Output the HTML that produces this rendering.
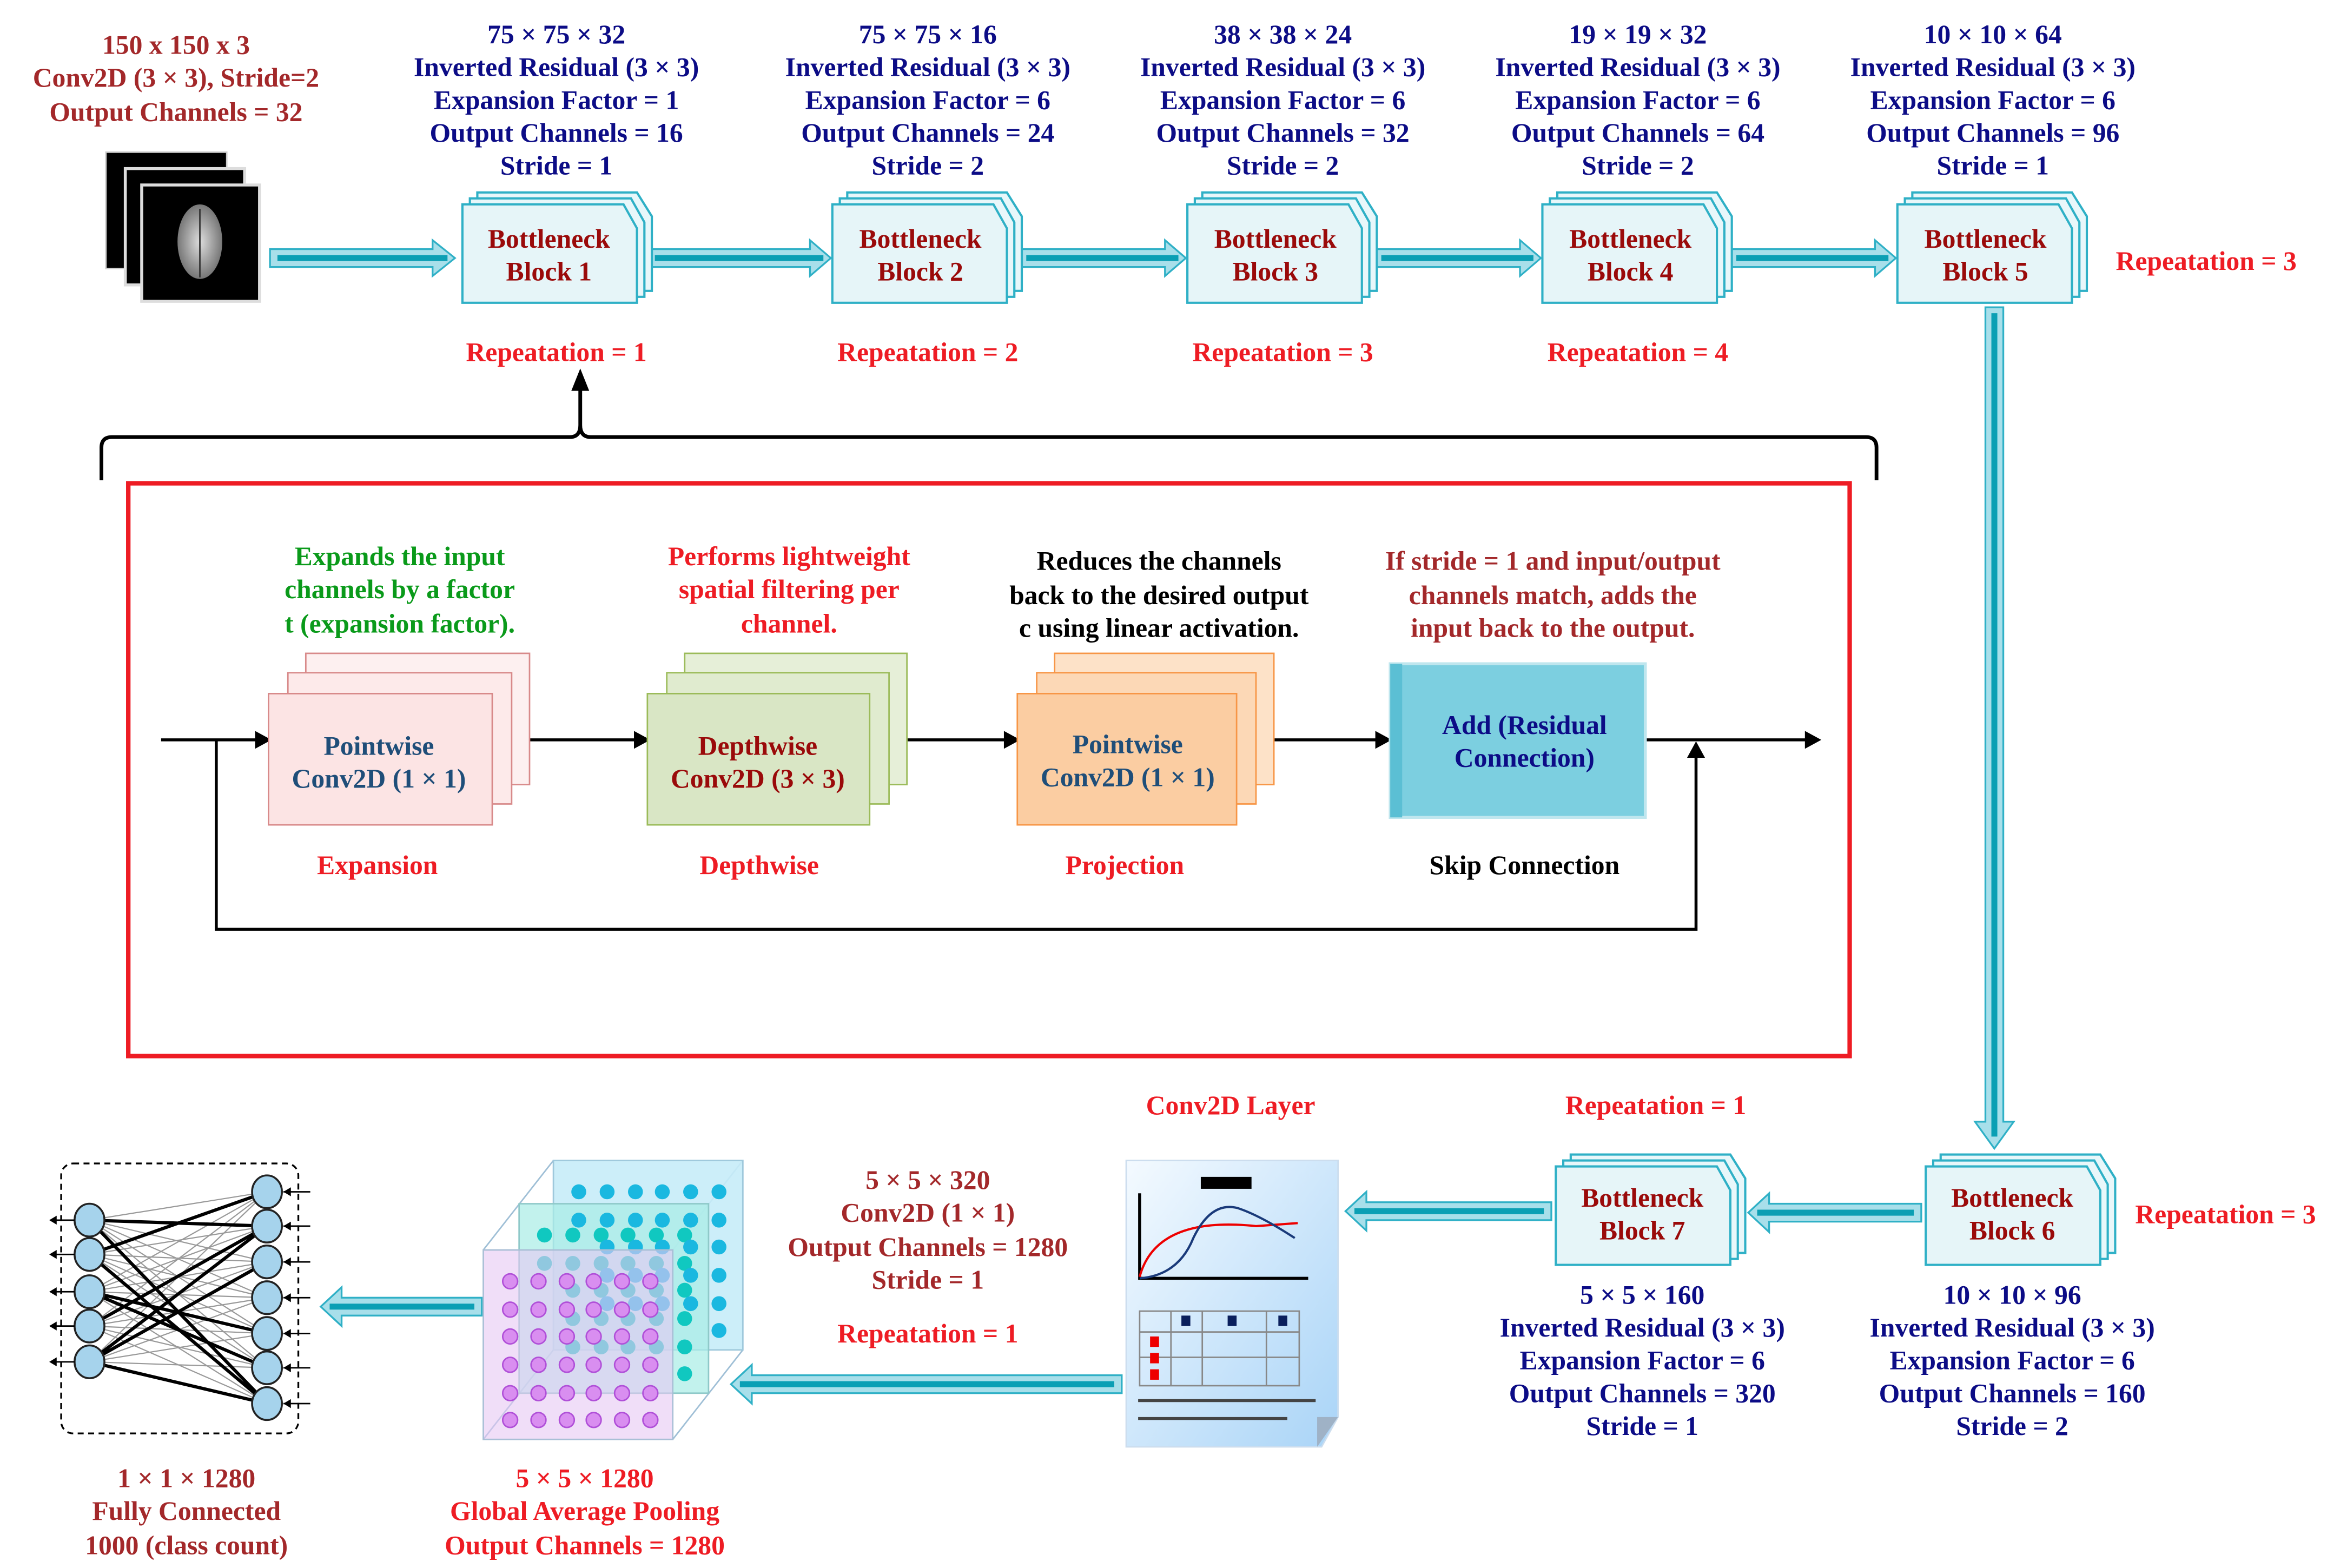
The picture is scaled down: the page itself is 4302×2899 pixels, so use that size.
<!DOCTYPE html>
<html><head><meta charset="utf-8"><style>
html,body{margin:0;padding:0;background:#fff}
svg{display:block}
text{font-family:"Liberation Serif",serif;font-weight:bold;font-size:18px;text-anchor:middle}
.nv{fill:#0c0c86}.br{fill:#a3282a}.rd{fill:#ee1c24}.dr{fill:#9a0a0a}.bl{fill:#1f4e79}
</style></head><body>
<svg width="4302" height="2899" viewBox="0 0 1560 1051.2" xmlns="http://www.w3.org/2000/svg">
<defs>
<g id="blk">
<polygon points="10,-8 117,-8 127,8 127,58 10,58" fill="#e8f7fa" stroke="#2fb0c6" stroke-width="1.5"/>
<polygon points="5,-4 113,-4 122,12 122,62 5,62" fill="#e8f7fa" stroke="#2fb0c6" stroke-width="1.5"/>
<polygon points="0,0 108,0 117,16 117,66 0,66" fill="#e6f5f8" stroke="#2fb0c6" stroke-width="1.5"/>
</g>
<g id="arR">
<polygon points="0,-6 -14,-6 -14,-13 0,0 -14,13 -14,6 0,6" fill="none"/>
</g>
<linearGradient id="doc" x1="0" y1="0" x2="1" y2="1"><stop offset="0" stop-color="#f4faff"/><stop offset="1" stop-color="#a9d4f7"/></linearGradient>
<radialGradient id="brain"><stop offset="0" stop-color="#ddd"/><stop offset="1" stop-color="#777"/></radialGradient>
</defs>

<!-- input text -->
<text class="br" x="118" y="36">150 x 150 x 3</text>
<text class="br" x="118" y="58">Conv2D (3 × 3), Stride=2</text>
<text class="br" x="118" y="81">Output Channels = 32</text>
<!-- images -->
<rect x="71" y="102" width="81" height="78" fill="#000" stroke="#ccc"/>
<rect x="84" y="113" width="80" height="78" fill="#000" stroke="#ddd" stroke-width="2"/>
<rect x="95" y="124" width="79" height="78" fill="#000" stroke="#ddd" stroke-width="2"/>
<ellipse cx="134" cy="162" rx="15" ry="25" fill="url(#brain)"/>
<line x1="134" y1="140" x2="134" y2="186" stroke="#333" stroke-width="1"/>

<!-- horizontal arrows top -->
<g fill="#a8dfea" stroke="#2fb0c6" stroke-width="1.2">
<polygon points="181,167 290,167 290,161 305,173 290,185 290,179 181,179"/>
<polygon points="434,167 543,167 543,161 557,173 543,185 543,179 434,179"/>
<polygon points="683,167 781,167 781,161 795,173 781,185 781,179 683,179"/>
<polygon points="921,167 1019,167 1019,161 1033,173 1019,185 1019,179 921,179"/>
<polygon points="1159,167 1257,167 1257,161 1271,173 1257,185 1257,179 1159,179"/>
</g>
<g stroke="#0b9fb4" stroke-width="4">
<line x1="186" y1="173" x2="300" y2="173"/><line x1="439" y1="173" x2="552" y2="173"/>
<line x1="688" y1="173" x2="790" y2="173"/><line x1="926" y1="173" x2="1028" y2="173"/>
<line x1="1164" y1="173" x2="1266" y2="173"/>
</g>

<!-- blocks top -->
<use href="#blk" transform="translate(310,137)"/>
<use href="#blk" transform="translate(558,137)"/>
<use href="#blk" transform="translate(796,137)"/>
<use href="#blk" transform="translate(1034,137)"/>
<use href="#blk" transform="translate(1272,137)"/>
<g class="dr">
<text x="368" y="166">Bottleneck</text><text x="368" y="188">Block 1</text>
<text x="617" y="166">Bottleneck</text><text x="617" y="188">Block 2</text>
<text x="855" y="166">Bottleneck</text><text x="855" y="188">Block 3</text>
<text x="1093" y="166">Bottleneck</text><text x="1093" y="188">Block 4</text>
<text x="1331" y="166">Bottleneck</text><text x="1331" y="188">Block 5</text>
</g>
<g class="nv">
<text x="373" y="29">75 × 75 × 32</text><text x="373" y="51">Inverted Residual (3 × 3)</text><text x="373" y="73">Expansion Factor = 1</text><text x="373" y="95">Output Channels = 16</text><text x="373" y="117">Stride = 1</text>
<text x="622" y="29">75 × 75 × 16</text><text x="622" y="51">Inverted Residual (3 × 3)</text><text x="622" y="73">Expansion Factor = 6</text><text x="622" y="95">Output Channels = 24</text><text x="622" y="117">Stride = 2</text>
<text x="860" y="29">38 × 38 × 24</text><text x="860" y="51">Inverted Residual (3 × 3)</text><text x="860" y="73">Expansion Factor = 6</text><text x="860" y="95">Output Channels = 32</text><text x="860" y="117">Stride = 2</text>
<text x="1098" y="29">19 × 19 × 32</text><text x="1098" y="51">Inverted Residual (3 × 3)</text><text x="1098" y="73">Expansion Factor = 6</text><text x="1098" y="95">Output Channels = 64</text><text x="1098" y="117">Stride = 2</text>
<text x="1336" y="29">10 × 10 × 64</text><text x="1336" y="51">Inverted Residual (3 × 3)</text><text x="1336" y="73">Expansion Factor = 6</text><text x="1336" y="95">Output Channels = 96</text><text x="1336" y="117">Stride = 1</text>
</g>
<g class="rd">
<text x="373" y="242">Repeatation = 1</text><text x="622" y="242">Repeatation = 2</text>
<text x="860" y="242">Repeatation = 3</text><text x="1098" y="242">Repeatation = 4</text>
<text x="1479" y="181">Repeatation = 3</text>
</g>

<!-- vertical arrow -->
<polygon points="1331,206 1343,206 1343,752 1350,752 1337,770 1324,752 1331,752" fill="#a8dfea" stroke="#2fb0c6" stroke-width="1.2"/>
<line x1="1337" y1="210" x2="1337" y2="762" stroke="#0b9fb4" stroke-width="4"/>

<!-- brace -->
<path d="M68,322 L68,300 Q68,293 75,293 L382,293 Q389,293 389,285 L389,258 M389,285 Q389,293 396,293 L1251,293 Q1258,293 1258,300 L1258,322" fill="none" stroke="#000" stroke-width="2.5"/>
<polygon points="383,262 389,247 395,262" fill="#000"/>

<!-- red box -->
<rect x="86" y="324" width="1154" height="384" fill="none" stroke="#ee1c24" stroke-width="3"/>

<!-- main flow line -->
<line x1="108" y1="496" x2="1212" y2="496" stroke="#000" stroke-width="2"/>
<polygon points="1210,490 1221,496 1210,502" fill="#000"/>
<polygon points="171,490 182,496 171,502" fill="#000"/>
<polygon points="425,490 436,496 425,502" fill="#000"/>
<polygon points="673,490 684,496 673,502" fill="#000"/>
<polygon points="922,490 933,496 922,502" fill="#000"/>
<path d="M145,496 L145,623 L1137,623 L1137,506" fill="none" stroke="#000" stroke-width="2"/>
<polygon points="1131,508 1137,497 1143,508" fill="#000"/>

<!-- pink -->
<rect x="205" y="438" width="150" height="88" fill="#fdf0f0" stroke="#d88a8a"/>
<rect x="193" y="451" width="150" height="88" fill="#fdeaea" stroke="#d88a8a"/>
<rect x="180" y="465" width="150" height="88" fill="#fce4e4" stroke="#d88a8a"/>
<text class="bl" x="254" y="506">Pointwise</text><text class="bl" x="254" y="528">Conv2D (1 × 1)</text>
<!-- green -->
<rect x="459" y="438" width="149" height="88" fill="#e6efd8" stroke="#9bbb59"/>
<rect x="447" y="451" width="149" height="88" fill="#e0ebcf" stroke="#9bbb59"/>
<rect x="434" y="465" width="149" height="88" fill="#d9e6c5" stroke="#9bbb59"/>
<text class="dr" x="508" y="506">Depthwise</text><text class="dr" x="508" y="528">Conv2D (3 × 3)</text>
<!-- orange -->
<rect x="707" y="438" width="147" height="88" fill="#fde2c8" stroke="#f79646"/>
<rect x="695" y="451" width="147" height="88" fill="#fcd8b6" stroke="#f79646"/>
<rect x="682" y="465" width="147" height="88" fill="#fbcda2" stroke="#f79646"/>
<text class="bl" x="756" y="505">Pointwise</text><text class="bl" x="756" y="527">Conv2D (1 × 1)</text>
<!-- add -->
<rect x="932" y="445" width="171" height="103" fill="#7ccfe0" stroke="#bfe6ee" stroke-width="2"/>
<rect x="932" y="445" width="8" height="103" fill="#5bbfd4"/>
<text class="nv" x="1022" y="492">Add (Residual</text><text class="nv" x="1022" y="514">Connection)</text>

<g class="rd"><text x="253" y="586">Expansion</text><text x="509" y="586">Depthwise</text><text x="754" y="586">Projection</text></g>
<text x="1022" y="586" fill="#000">Skip Connection</text>

<text x="268" y="379" fill="#0a9a1a">Expands the input</text>
<text x="268" y="401" fill="#0a9a1a">channels by a factor</text>
<text x="268" y="424" fill="#0a9a1a">t (expansion factor).</text>
<g class="rd"><text x="529" y="379">Performs lightweight</text><text x="529" y="401">spatial filtering per</text><text x="529" y="424">channel.</text></g>
<text x="777" y="382" fill="#000">Reduces the channels</text>
<text x="777" y="405" fill="#000">back to the desired output</text>
<text x="777" y="427" fill="#000">c using linear activation.</text>
<g class="br"><text x="1041" y="382">If stride = 1 and input/output</text><text x="1041" y="405">channels match, adds the</text><text x="1041" y="427">input back to the output.</text></g>

<!-- bottom row -->
<g class="rd"><text x="825" y="747">Conv2D Layer</text><text x="1110" y="747">Repeatation = 1</text><text x="1492" y="820">Repeatation = 3</text><text x="622" y="900">Repeatation = 1</text></g>
<use href="#blk" transform="translate(1043,782)"/>
<use href="#blk" transform="translate(1291,782)"/>
<g class="dr"><text x="1101" y="809">Bottleneck</text><text x="1101" y="831">Block 7</text>
<text x="1349" y="809">Bottleneck</text><text x="1349" y="831">Block 6</text></g>
<g class="nv">
<text x="1101" y="874">5 × 5 × 160</text><text x="1101" y="896">Inverted Residual (3 × 3)</text><text x="1101" y="918">Expansion Factor = 6</text><text x="1101" y="940">Output Channels = 320</text><text x="1101" y="962">Stride = 1</text>
<text x="1349" y="874">10 × 10 × 96</text><text x="1349" y="896">Inverted Residual (3 × 3)</text><text x="1349" y="918">Expansion Factor = 6</text><text x="1349" y="940">Output Channels = 160</text><text x="1349" y="962">Stride = 2</text>
</g>
<g class="br"><text x="622" y="797">5 × 5 × 320</text><text x="622" y="819">Conv2D (1 × 1)</text><text x="622" y="842">Output Channels = 1280</text><text x="622" y="864">Stride = 1</text></g>

<!-- left arrows bottom -->
<g fill="#a8dfea" stroke="#2fb0c6" stroke-width="1.2">
<polygon points="1288,807 1186,807 1186,800 1172,813 1186,826 1186,819 1288,819"/>
<polygon points="1040,806 916,806 916,799 902,812 916,825 916,818 1040,818"/>
<polygon points="752,922 504,922 504,915 490,928 504,941 504,934 752,934"/>
<polygon points="323,870 229,870 229,863 215,876 229,889 229,882 323,882"/>
</g>
<g stroke="#0b9fb4" stroke-width="4">
<line x1="1283" y1="813" x2="1178" y2="813"/><line x1="1035" y1="812" x2="908" y2="812"/>
<line x1="747" y1="928" x2="496" y2="928"/><line x1="318" y1="876" x2="221" y2="876"/>
</g>

<!-- document -->
<polygon points="755,778 897,778 897,950 886,970 755,970" fill="url(#doc)" stroke="#cde" stroke-width="1"/>
<polygon points="883,950 897,950 883,970" fill="#9fb2c6"/>
<rect x="805" y="789" width="34" height="8" fill="#000"/>
<path d="M764,800 L764,857 L877,857" fill="none" stroke="#000" stroke-width="2"/>
<path d="M764,856 Q775,815 842,822 L870,820" fill="none" stroke="#e00" stroke-width="1.5"/>
<path d="M764,857 Q790,855 800,830 Q812,805 830,810 Q845,815 868,830" fill="none" stroke="#1a3a7a" stroke-width="1.5"/>
<g stroke="#888" stroke-width="1" fill="none">
<rect x="764" y="879" width="107" height="50"/>
<line x1="764" y1="893" x2="871" y2="893"/><line x1="764" y1="910" x2="871" y2="910"/>
<line x1="785" y1="879" x2="785" y2="929"/><line x1="806" y1="879" x2="806" y2="929"/><line x1="849" y1="879" x2="849" y2="929"/>
</g>
<g fill="#0a1f5c"><rect x="792" y="882" width="6" height="7"/><rect x="823" y="882" width="6" height="7"/><rect x="857" y="882" width="6" height="7"/></g>
<g fill="#e00"><rect x="771" y="896" width="6" height="7"/><rect x="771" y="907" width="6" height="7"/><rect x="771" y="918" width="6" height="7"/></g>
<line x1="763" y1="939" x2="882" y2="939" stroke="#444" stroke-width="2"/>
<line x1="763" y1="951" x2="863" y2="951" stroke="#444" stroke-width="2"/>

<!-- cube -->
<g stroke="#9fbfd6" stroke-width="1" fill="none">
<line x1="324" y1="838" x2="371" y2="778"/><line x1="451" y1="838" x2="498" y2="778"/>
<line x1="451" y1="965" x2="498" y2="905"/><line x1="324" y1="965" x2="371" y2="905"/>
</g>
<rect x="371" y="778" width="127" height="127" fill="#c6ecf8" fill-opacity="0.9" stroke="#9fc9dc"/>
<g fill="#1ab8e0">
<circle cx="388" cy="799" r="5"/><circle cx="407" cy="799" r="5"/><circle cx="426" cy="799" r="5"/><circle cx="444" cy="799" r="5"/><circle cx="463" cy="799" r="5"/><circle cx="482" cy="799" r="5"/>
<circle cx="482" cy="818" r="5"/><circle cx="482" cy="836" r="5"/><circle cx="482" cy="855" r="5"/><circle cx="482" cy="874" r="5"/><circle cx="482" cy="892" r="5"/>
</g>
<rect x="348" y="807" width="127" height="127" fill="#a8ece6" fill-opacity="0.7" stroke="#8fc9c9"/>
<g fill="#10c8c0">
<circle cx="365" cy="828" r="5"/><circle cx="384" cy="828" r="5"/><circle cx="403" cy="828" r="5"/><circle cx="421" cy="828" r="5"/><circle cx="440" cy="828" r="5"/><circle cx="459" cy="828" r="5"/>
<circle cx="365" cy="847" r="5"/><circle cx="384" cy="847" r="5"/><circle cx="403" cy="847" r="5"/><circle cx="421" cy="847" r="5"/><circle cx="440" cy="847" r="5"/><circle cx="459" cy="847" r="5"/>
<circle cx="459" cy="865" r="5"/><circle cx="459" cy="884" r="5"/><circle cx="459" cy="903" r="5"/><circle cx="459" cy="921" r="5"/>
<circle cx="384" cy="865" r="5"/><circle cx="403" cy="865" r="5"/><circle cx="421" cy="865" r="5"/><circle cx="440" cy="865" r="5"/>
<circle cx="384" cy="884" r="5"/><circle cx="403" cy="884" r="5"/><circle cx="421" cy="884" r="5"/><circle cx="440" cy="884" r="5"/>
<circle cx="384" cy="903" r="5"/><circle cx="403" cy="903" r="5"/><circle cx="421" cy="903" r="5"/><circle cx="440" cy="903" r="5"/>
</g>
<g fill="#1ab8e0"><circle cx="388" cy="818" r="5"/><circle cx="407" cy="818" r="5"/><circle cx="426" cy="818" r="5"/><circle cx="444" cy="818" r="5"/><circle cx="463" cy="818" r="5"/>
<circle cx="407" cy="836" r="5"/><circle cx="426" cy="836" r="5"/><circle cx="444" cy="836" r="5"/><circle cx="463" cy="836" r="5"/>
<circle cx="407" cy="855" r="5"/><circle cx="426" cy="855" r="5"/><circle cx="444" cy="855" r="5"/><circle cx="463" cy="855" r="5"/>
<circle cx="407" cy="874" r="5"/><circle cx="426" cy="874" r="5"/><circle cx="444" cy="874" r="5"/><circle cx="463" cy="874" r="5"/></g>
<rect x="324" y="838" width="127" height="127" fill="#e6c8f4" fill-opacity="0.6" stroke="#a9bfd6"/>
<g fill="#d98ef0" stroke="#b050d8" stroke-width="1">
<circle cx="342" cy="859" r="5"/><circle cx="361" cy="859" r="5"/><circle cx="380" cy="859" r="5"/><circle cx="398" cy="859" r="5"/><circle cx="417" cy="859" r="5"/><circle cx="436" cy="859" r="5"/>
<circle cx="342" cy="878" r="5"/><circle cx="361" cy="878" r="5"/><circle cx="380" cy="878" r="5"/><circle cx="398" cy="878" r="5"/><circle cx="417" cy="878" r="5"/><circle cx="436" cy="878" r="5"/>
<circle cx="342" cy="896" r="5"/><circle cx="361" cy="896" r="5"/><circle cx="380" cy="896" r="5"/><circle cx="398" cy="896" r="5"/><circle cx="417" cy="896" r="5"/><circle cx="436" cy="896" r="5"/>
<circle cx="342" cy="915" r="5"/><circle cx="361" cy="915" r="5"/><circle cx="380" cy="915" r="5"/><circle cx="398" cy="915" r="5"/><circle cx="417" cy="915" r="5"/><circle cx="436" cy="915" r="5"/>
<circle cx="342" cy="934" r="5"/><circle cx="361" cy="934" r="5"/><circle cx="380" cy="934" r="5"/><circle cx="398" cy="934" r="5"/><circle cx="417" cy="934" r="5"/><circle cx="436" cy="934" r="5"/>
<circle cx="342" cy="952" r="5"/><circle cx="361" cy="952" r="5"/><circle cx="380" cy="952" r="5"/><circle cx="398" cy="952" r="5"/><circle cx="417" cy="952" r="5"/><circle cx="436" cy="952" r="5"/>
</g>
<text class="rd" x="392" y="997">5 × 5 × 1280</text>
<text class="rd" x="392" y="1019">Global Average Pooling</text>
<text class="rd" x="392" y="1042">Output Channels = 1280</text>

<!-- NN -->
<rect x="41" y="780" width="159" height="181" rx="8" fill="none" stroke="#000" stroke-dasharray="4,3" stroke-width="1.2"/>
<g stroke="#999" stroke-width="0.8">
<path d="M60,818 L179,799 M60,818 L179,822 M60,818 L179,846 M60,818 L179,870 M60,818 L179,894 M60,818 L179,917 M60,818 L179,941
M60,841 L179,799 M60,841 L179,822 M60,841 L179,846 M60,841 L179,870 M60,841 L179,894 M60,841 L179,917 M60,841 L179,941
M60,866 L179,799 M60,866 L179,822 M60,866 L179,846 M60,866 L179,870 M60,866 L179,894 M60,866 L179,917 M60,866 L179,941
M60,889 L179,799 M60,889 L179,822 M60,889 L179,846 M60,889 L179,870 M60,889 L179,894 M60,889 L179,917 M60,889 L179,941
M60,913 L179,799 M60,913 L179,822 M60,913 L179,846 M60,913 L179,870 M60,913 L179,894 M60,913 L179,917 M60,913 L179,941"/>
</g>
<g stroke="#000" stroke-width="2.2">
<path d="M60,818 L179,822 M60,841 L179,799 M60,818 L179,941 M60,866 L179,894 M60,866 L179,917 M60,913 L179,822 M60,913 L179,846 M60,913 L179,941 M60,889 L179,822 M60,841 L179,941"/>
</g>
<g fill="#a6d3ec" stroke="#222" stroke-width="1.3">
<ellipse cx="60" cy="818" rx="10" ry="11"/><ellipse cx="60" cy="841" rx="10" ry="11"/><ellipse cx="60" cy="866" rx="10" ry="11"/><ellipse cx="60" cy="889" rx="10" ry="11"/><ellipse cx="60" cy="913" rx="10" ry="11"/>
<ellipse cx="179" cy="799" rx="10" ry="11"/><ellipse cx="179" cy="822" rx="10" ry="11"/><ellipse cx="179" cy="846" rx="10" ry="11"/><ellipse cx="179" cy="870" rx="10" ry="11"/><ellipse cx="179" cy="894" rx="10" ry="11"/><ellipse cx="179" cy="917" rx="10" ry="11"/><ellipse cx="179" cy="941" rx="10" ry="11"/>
</g>
<g stroke="#000" stroke-width="1">
<path d="M50,818 L36,818 M50,841 L36,841 M50,866 L36,866 M50,889 L36,889 M50,913 L36,913"/>
<path d="M208,799 L190,799 M208,822 L190,822 M208,846 L190,846 M208,870 L190,870 M208,894 L190,894 M208,917 L190,917 M208,941 L190,941"/>
</g>
<g fill="#000">
<polygon points="33,818 38,815 38,821"/><polygon points="33,841 38,838 38,844"/><polygon points="33,866 38,863 38,869"/><polygon points="33,889 38,886 38,892"/><polygon points="33,913 38,910 38,916"/>
<polygon points="190,799 195,796 195,802"/><polygon points="190,822 195,819 195,825"/><polygon points="190,846 195,843 195,849"/><polygon points="190,870 195,867 195,873"/><polygon points="190,894 195,891 195,897"/><polygon points="190,917 195,914 195,920"/><polygon points="190,941 195,938 195,944"/>
</g>
<text class="br" x="125" y="997">1 × 1 × 1280</text>
<text class="br" x="125" y="1019">Fully Connected</text>
<text class="br" x="125" y="1042">1000 (class count)</text>
</svg>
</body></html>
